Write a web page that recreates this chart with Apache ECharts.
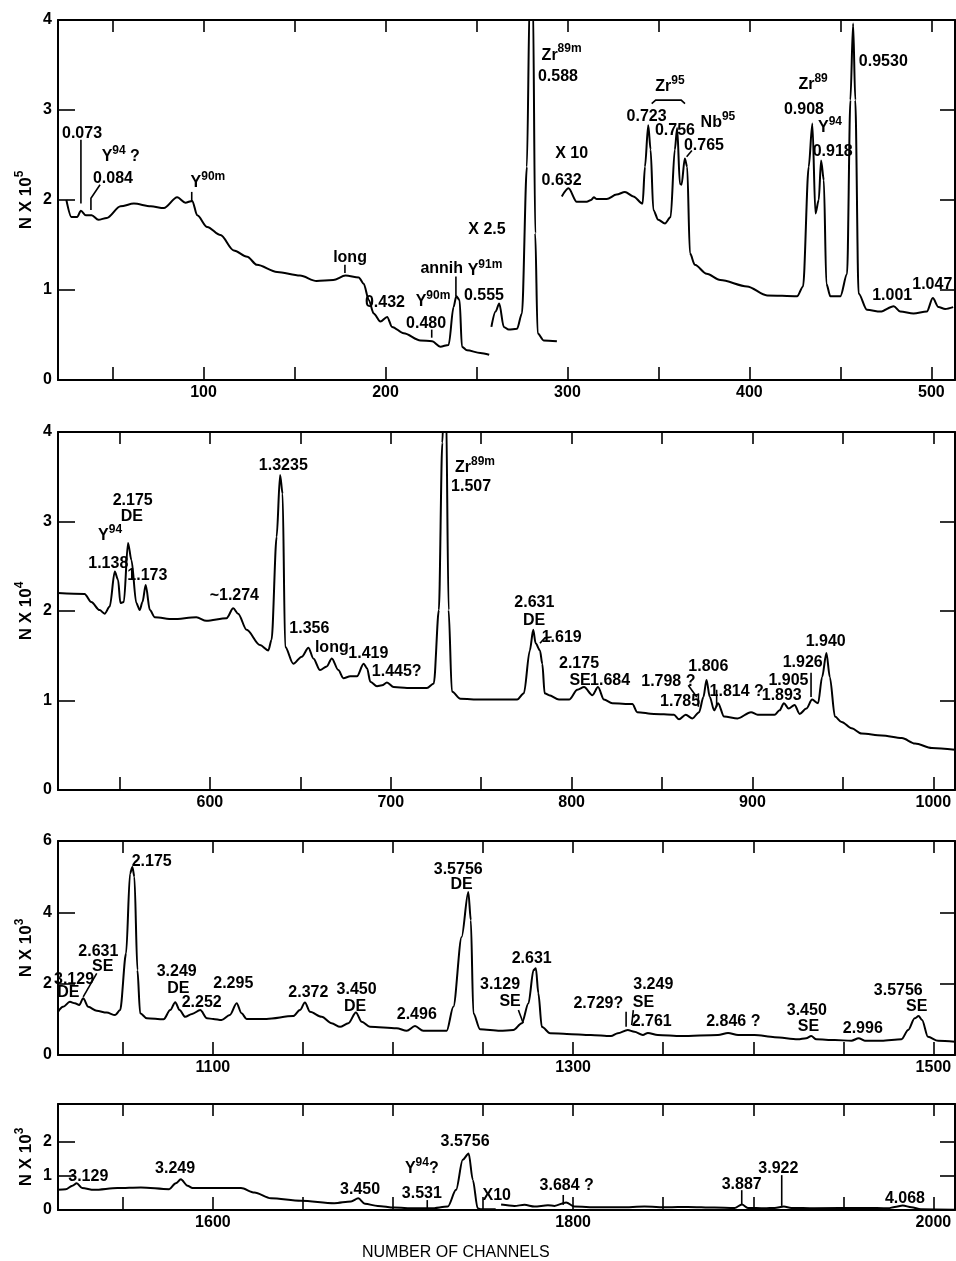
<!DOCTYPE html>
<html>
<head>
<meta charset="utf-8">
<script src="https://cdn.jsdelivr.net/npm/echarts@6/dist/echarts.min.js"></script>
<style>
html,body{margin:0;padding:0;background:#fff;}
#chart{width:956px;height:1261px;}
</style>
</head>
<body>
<div id="chart"></div>
<script>
// axis ranges of the four strips
var xMin = [20, 516, 1014, 1514];
var xMax = [513, 1012, 1512, 2012];
var yMax = [4, 4, 6, 3.1];
var xTicks = [
  [50,100,150,200,250,300,350,400,450,500],
  [550,600,650,700,750,800,850,900,950,1000],
  [1050,1100,1150,1200,1250,1300,1350,1400,1450,1500],
  [1550,1600,1650,1700,1750,1800,1850,1900,1950,2000]
];
var xLabels = [[100,200,300,400,500],[600,700,800,900,1000],[1100,1300,1500],[1600,1800,2000]];
var yLabels = [[0,1,2,3,4],[0,1,2,3,4],[0,2,4,6],[0,1,2]];
var yNames = ['N X 10{s|5}', 'N X 10{s|4}', 'N X 10{s|3}', 'N X 10{s|3}'];

// spectrum, channel / counts
var spec1a = [[24.6,2.0],[27.4,1.81],[30.5,1.81],[32.6,1.88],[35.3,1.83],[38.5,1.83],[42.2,1.78],[46.8,1.8],[54.4,1.93],[61.7,1.96],[71,1.93],[78.2,1.91],[85.5,2.03],[90,1.97],[93.8,1.99],[96.5,1.83],[102,1.70],[109.3,1.61],[116.6,1.44],[124,1.37],[129.3,1.28],[140.4,1.20],[153,1.16],[162.1,1.10],[171.3,1.11],[178,1.16],[185.3,1.14],[188,1.07],[190.8,0.89],[193.5,0.74],[197.2,0.65],[200.9,0.70],[203.6,0.59],[210,0.52],[219.2,0.44],[225.6,0.43],[230.1,0.37],[234.7,0.39],[237.4,0.81],[238.9,0.93],[240.7,0.89],[242,0.37],[244.8,0.33],[252.1,0.30],[257,0.28]];
var spec1b = [[258.2,0.59],[260.5,0.76],[262.5,0.85],[265,0.59],[267.7,0.56],[272.3,0.57],[275,0.74],[277.7,2.37],[279.3,4.3],[281,4.3],[282.3,1.63],[283.6,0.52],[286.9,0.44],[294.2,0.43]];
var spec1c = [[296.9,2.04],[300.6,2.13],[305.1,1.98],[310.6,1.98],[313,2.0],[314.5,2.03],[316.1,2.01],[321.6,2.01],[327,2.06],[331.6,2.09],[336.2,2.04],[341.3,1.96],[342.6,2.37],[344.4,2.83],[345.7,2.56],[347.2,1.89],[349.9,1.78],[353.6,1.74],[356.7,1.81],[359,2.56],[360.3,2.80],[361.8,2.18],[362.7,2.17],[364.5,2.46],[365.8,2.37],[367.3,1.41],[370,1.28],[376.5,1.18],[384,1.11],[398.7,1.04],[409.7,0.94],[426.2,0.93],[429.5,1.04],[432.6,2.37],[434.6,2.85],[436.3,1.85],[438.1,2.0],[439.4,2.44],[440.9,2.22],[442.3,1.07],[444.5,0.93],[450,0.93],[453.7,1.18],[455.5,3.11],[457,3.96],[458.2,3.11],[460,0.96],[464.6,0.78],[472,0.76],[479.3,0.82],[482.9,0.76],[490.2,0.74],[497.5,0.76],[500.8,0.91],[503.9,0.81],[507.6,0.79],[512,0.81]];
var spec2 = [[516,2.20],[530.7,2.19],[534.4,2.10],[539,2.01],[541.8,1.97],[544.6,2.05],[547.4,2.44],[549.2,2.35],[550.5,2.09],[552.4,2.10],[554.7,2.76],[556.6,2.57],[559.3,2.09],[561.2,2.01],[562.7,2.10],[564.5,2.29],[566.8,2.01],[569.5,1.93],[579.6,1.91],[592.5,1.93],[598,1.89],[609.2,1.92],[612.9,2.03],[615.6,1.97],[620.3,1.79],[627.7,1.62],[632.3,1.56],[634.1,1.68],[636.9,2.83],[638.8,3.52],[640.2,3.31],[641.6,1.60],[646.1,1.41],[650.8,1.49],[654.5,1.59],[657.2,1.47],[660.9,1.34],[664.6,1.38],[667.4,1.47],[671,1.34],[673.8,1.25],[677.6,1.27],[681.3,1.27],[685,1.41],[686.9,1.36],[688.7,1.21],[692.4,1.16],[695.2,1.17],[697.9,1.20],[701.6,1.15],[709,1.14],[720,1.14],[723.8,1.19],[726.6,2.01],[728.5,3.88],[729.5,4.4],[730.5,4.4],[732,2.01],[733.8,1.10],[738.5,1.02],[749.6,1.01],[769.9,1.01],[773.6,1.08],[776.9,1.56],[778.8,1.79],[780.1,1.64],[782.5,1.56],[783.8,1.41],[785.1,1.08],[787.5,1.06],[793,1.01],[798.6,1.01],[803.2,1.12],[806.9,1.15],[811.5,1.06],[814.6,1.15],[817.9,1.01],[822.5,0.97],[833.6,0.96],[836.3,0.87],[845.5,0.85],[856.6,0.84],[859.4,0.79],[863.1,0.84],[866.8,0.80],[870.5,0.87],[872.9,1.04],[874.6,1.23],[876.4,1.04],[878.8,0.89],[881,0.97],[884.3,0.82],[891.8,0.80],[899.2,0.87],[902.9,0.84],[912.2,0.84],[915,0.89],[917.4,0.97],[920,0.91],[923.3,0.95],[926.1,0.85],[929.8,0.91],[933,1.01],[936.3,0.97],[938.5,1.26],[940.9,1.53],[942.8,1.26],[945.6,0.82],[949.3,0.76],[954.8,0.69],[960.4,0.63],[971.5,0.61],[982.6,0.58],[989.9,0.52],[999.2,0.47],[1012,0.45]];
var spec3 = [[1014,1.21],[1016.8,1.35],[1020.6,1.49],[1023.4,1.45],[1025.8,1.40],[1028,1.59],[1030.8,1.35],[1035.5,1.24],[1041,1.19],[1045.7,1.12],[1048.5,1.26],[1051.8,2.85],[1054,5.09],[1055.3,5.27],[1056.4,5.0],[1058.1,2.38],[1059.6,1.17],[1063.3,1.03],[1072.6,1.00],[1076.3,1.26],[1079.1,1.48],[1081.5,1.26],[1084.6,1.07],[1088.4,1.15],[1093,1.26],[1096.7,1.03],[1100.2,1.01],[1104.8,0.98],[1109.4,1.12],[1113.2,1.45],[1115.9,1.17],[1118.7,1.01],[1129.8,1.01],[1144.6,1.09],[1148.3,1.26],[1151.1,1.47],[1153.9,1.21],[1160.4,1.07],[1165.9,0.89],[1170.6,0.79],[1175.2,0.89],[1179.4,1.19],[1182.6,0.93],[1187.2,0.79],[1202,0.75],[1207.6,0.68],[1212.2,0.81],[1216.8,0.68],[1229.8,0.68],[1233.5,1.35],[1238.1,3.31],[1241.8,4.57],[1243.2,3.78],[1244.6,1.17],[1248.3,0.72],[1259.4,0.68],[1266.8,0.70],[1271.5,0.89],[1275.2,1.45],[1278,2.38],[1279.3,2.43],[1280.7,1.73],[1282.6,0.79],[1287.2,0.61],[1296.5,0.59],[1309.8,0.56],[1321,0.53],[1324.8,0.61],[1330.3,0.70],[1334,0.65],[1338.7,0.56],[1341.5,0.62],[1347,0.56],[1360,0.53],[1380.4,0.56],[1386,0.62],[1391.6,0.56],[1400.7,0.56],[1411.9,0.50],[1424.8,0.44],[1429.4,0.47],[1432.2,0.53],[1435,0.44],[1445.2,0.42],[1454.5,0.40],[1458.5,0.47],[1461.9,0.40],[1471.2,0.40],[1482.3,0.44],[1486,0.70],[1489.6,1.03],[1491.8,1.09],[1493.7,0.98],[1497,0.51],[1502.6,0.40],[1512,0.37]];
var spec4a = [[1514,0.59],[1518.3,0.61],[1522,0.71],[1524.4,0.78],[1527.4,0.64],[1534,0.59],[1547,0.64],[1560,0.66],[1575.7,0.61],[1579.4,0.78],[1582.2,0.90],[1585.9,0.71],[1588.7,0.64],[1600.7,0.64],[1615.6,0.64],[1623,0.51],[1632.2,0.34],[1648.9,0.27],[1667.4,0.20],[1676.7,0.25],[1680.7,0.34],[1684.4,0.18],[1691.5,0.12],[1700.7,0.07],[1711.9,0.05],[1721.1,0.05],[1730.4,0.10],[1735,0.59],[1738.7,1.47],[1742,1.65],[1744.3,0.88],[1747,0.05],[1749,0.02],[1757,0.02]];
var spec4b = [[1760,0.16],[1767.4,0.12],[1773,0.15],[1778.5,0.1],[1786,0.14],[1789.6,0.12],[1796.1,0.22],[1800.7,0.1],[1813.7,0.08],[1826.7,0.08],[1839.6,0.1],[1852.6,0.08],[1863.7,0.09],[1878.5,0.07],[1889.6,0.06],[1893.7,0.16],[1897,0.06],[1906.3,0.05],[1911.9,0.06],[1917,0.1],[1921.1,0.06],[1934,0.05],[1962,0.06],[1975,0.05],[1978.5,0.09],[1983,0.13],[1987.8,0.08],[1993,0.02],[2012,0.01]];

// peak labels [channel, counts, text]
var labels1 = [[33.2,2.74,'0.073'],[54.5,2.48,'Y{s|94} ?'],[50.2,2.24,'0.084'],[102.4,2.19,'Y{s|90m}'],[180.5,1.36,'long'],[199.7,0.86,'0.432'],[226.1,0.87,'Y{s|90m}'],[222.3,0.63,'0.480'],[230.9,1.24,'annih'],[255.8,1.67,'X 2.5'],[254.7,1.22,'Y{s|91m}'],[254.1,0.94,'0.555'],[296.8,3.61,'Zr{s|89m}'],[294.8,3.37,'0.588'],[302.3,2.52,'X 10'],[296.8,2.22,'0.632'],[356.3,3.26,'Zr{s|95}'],[343.5,2.93,'0.723'],[359.1,2.77,'0.756'],[382.7,2.86,'Nb{s|95}'],[375,2.6,'0.765'],[435,3.28,'Zr{s|89}'],[430,3.01,'0.908'],[444.3,2.8,'Y{s|94}'],[445.8,2.54,'0.918'],[473.6,3.54,'0.9530'],[478.5,0.94,'1.001'],[500.5,1.06,'1.047']];
var labels2 = [[544.8,2.84,'Y{s|94}'],[543.8,2.53,'1.138'],[557.3,3.23,'2.175'],[556.8,3.05,'DE'],[565.4,2.40,'1.173'],[613.5,2.17,'~1.274'],[640.6,3.63,'1.3235'],[746.6,3.6,'Zr{s|89m}'],[744.4,3.39,'1.507'],[655,1.80,'1.356'],[667.4,1.59,'long'],[687.6,1.52,'1.419'],[703.3,1.32,'1.445?'],[779.4,2.09,'2.631'],[779.2,1.89,'DE'],[794.5,1.70,'1.619'],[804.1,1.41,'2.175'],[804.7,1.22,'SE'],[821.3,1.22,'1.684'],[853.5,1.21,'1.798 ?'],[860,0.99,'1.785'],[875.6,1.38,'1.806'],[891.3,1.10,'1.814 ?'],[916.2,1.06,'1.893'],[919.9,1.22,'1.905'],[927.8,1.42,'1.926'],[940.5,1.66,'1.940']];
var labels3 = [[1022.9,2.12,'3.129'],[1019.7,1.75,'DE'],[1036.4,2.90,'2.631'],[1038.8,2.48,'SE'],[1066,5.42,'2.175'],[1079.9,2.34,'3.249'],[1080.8,1.87,'DE'],[1093.8,1.47,'2.252'],[1111.3,1.99,'2.295'],[1153,1.75,'2.372'],[1179.8,1.84,'3.450'],[1178.9,1.37,'DE'],[1213.2,1.12,'2.496'],[1236.2,5.19,'3.5756'],[1238.1,4.77,'DE'],[1259.4,1.96,'3.129'],[1265,1.49,'SE'],[1277,2.71,'2.631'],[1314,1.45,'2.729?'],[1344.5,1.96,'3.249'],[1339,1.47,'SE'],[1343.6,0.93,'2.761'],[1388.9,0.93,'2.846 ?'],[1429.7,1.24,'3.450'],[1430.6,0.79,'SE'],[1460.8,0.75,'2.996'],[1480.5,1.80,'3.5756'],[1490.7,1.35,'SE']];
var labels4 = [[1530.8,0.97,'3.129'],[1579,1.22,'3.249'],[1681.7,0.61,'3.450'],[1716,1.22,'Y{s|94}?'],[1716,0.49,'3.531'],[1740,1.99,'3.5756'],[1757.6,0.41,'X10'],[1796.4,0.70,'3.684 ?'],[1893.6,0.75,'3.887'],[1913.9,1.22,'3.922'],[1984.2,0.34,'4.068']];

// leader lines from labels to peaks
var leaders1 = [
  [[32.6,2.67],[32.6,1.96]],
  [[43.1,2.17],[38.1,2.02],[38.1,1.89]],
  [[93.5,2.09],[93.5,1.98]],
  [[177.7,1.28],[177.7,1.19]],
  [[225.4,0.56],[225.4,0.47]],
  [[238.7,1.15],[238.7,0.93]],
  [[346.3,3.07],[348.5,3.11],[362.5,3.11],[364.6,3.07]],
  [[368.4,2.55],[365.5,2.48]]
];
var leaders2 = [
  [[782.5,1.64],[785.3,1.70],[789,1.71]],
  [[864.5,1.17],[869.2,1.04]],
  [[870.1,1.08],[870.1,0.93]],
  [[880.2,1.12],[880.2,0.93]],
  [[932.4,1.31],[932.4,1.04]]
];
var leaders3 = [
  [[1035.5,2.29],[1028,1.63]],
  [[1269.6,1.26],[1272.3,0.89]],
  [[1329.4,1.21],[1329.4,0.79]],
  [[1333.4,1.26],[1332.5,0.84]]
];
var leaders4 = [
  [[1719,0.29],[1719,0.05]],
  [[1794.5,0.44],[1794.5,0.15]],
  [[1893.6,0.58],[1893.6,0.15]],
  [[1915.8,1.02],[1915.8,0.12]]
];

var specs = [[spec1a, spec1b, spec1c], [spec2], [spec3], [spec4a, spec4b]];
var labels = [labels1, labels2, labels3, labels4];
var leaders = [leaders1, leaders2, leaders3, leaders4];

var FONT = 'Liberation Sans';
var layout = [
  {top: 20, height: 360},
  {top: 432, height: 358},
  {top: 841, height: 214},
  {top: 1104, height: 106}
];

var grids = [], xAxes = [], yAxes = [], series = [];
var axisLine = {show: true, onZero: false, lineStyle: {color: '#000', width: 2}};
var plain = function (v) { return String(v); };

for (var i = 0; i < 4; i++) {
  grids.push({left: 58, width: 897, top: layout[i].top, height: layout[i].height});

  xAxes.push({
    type: 'value', gridIndex: i, position: 'bottom', min: xMin[i], max: xMax[i],
    axisLine: axisLine, splitLine: {show: false},
    axisTick: {show: true, inside: true, length: 13, customValues: xTicks[i], lineStyle: {color: '#000', width: 1.6}},
    axisLabel: {customValues: xLabels[i], formatter: plain, color: '#000', fontSize: 16, fontWeight: 'bold', fontFamily: FONT, margin: 5}
  });
  xAxes.push({
    type: 'value', gridIndex: i, position: 'top', min: xMin[i], max: xMax[i],
    axisLine: axisLine, splitLine: {show: false},
    axisTick: {show: true, inside: true, length: 12, customValues: xTicks[i], lineStyle: {color: '#000', width: 1.6}},
    axisLabel: {show: false}
  });
  yAxes.push({
    type: 'value', gridIndex: i, position: 'left', min: 0, max: yMax[i],
    axisLine: axisLine, splitLine: {show: false},
    axisTick: {show: true, inside: true, length: 17, customValues: yLabels[i], lineStyle: {color: '#000', width: 1.6}},
    axisLabel: {customValues: yLabels[i], formatter: plain, color: '#000', fontSize: 16, fontWeight: 'bold', fontFamily: FONT, margin: 6},
    name: yNames[i], nameLocation: 'middle', nameGap: 20, nameRotate: 90, nameMoveOverlap: false,
    nameTextStyle: {color: '#000', fontSize: 17, fontFamily: FONT, fontWeight: 'bold', lineHeight: 24,
      rich: {s: {fontSize: 12, fontFamily: FONT, fontWeight: 'bold', verticalAlign: 'top', lineHeight: 12}}}
  });
  yAxes.push({
    type: 'value', gridIndex: i, position: 'right', min: 0, max: yMax[i],
    axisLine: axisLine, splitLine: {show: false},
    axisTick: {show: true, inside: true, length: 15, customValues: yLabels[i], lineStyle: {color: '#000', width: 1.6}},
    axisLabel: {show: false}
  });

  specs[i].forEach(function (seg) {
    series.push({
      type: 'line', xAxisIndex: 2 * i, yAxisIndex: 2 * i, data: seg,
      showSymbol: false, smooth: 0.3, smoothMonotone: 'x',
      lineStyle: {color: '#000', width: 2}, silent: true
    });
  });

  (function (lb, ld, k) {
    series.push({
      type: 'custom', xAxisIndex: 2 * k, yAxisIndex: 2 * k, silent: true,
      data: ld.map(function (l, j) { return [l[0][0], l[0][1], j]; }),
      renderItem: function (params, api) {
        var pts = ld[api.value(2)].map(function (p) { return api.coord(p); });
        return {type: 'polyline', shape: {points: pts}, style: {stroke: '#000', lineWidth: 1.6, fill: null}};
      }
    });
    series.push({
      type: 'custom', xAxisIndex: 2 * k, yAxisIndex: 2 * k, silent: true,
      data: lb.map(function (l, j) { return [l[0], l[1], j]; }),
      renderItem: function (params, api) {
        var p = api.coord([api.value(0), api.value(1)]);
        return {
          type: 'text', x: p[0], y: p[1],
          style: {
            text: lb[api.value(2)][2], fill: '#000', fontSize: 16, fontWeight: 'bold', fontFamily: FONT,
            align: 'center', verticalAlign: 'middle', lineHeight: 24,
            rich: {s: {fontSize: 12, fontWeight: 'bold', fontFamily: FONT, fill: '#000', verticalAlign: 'top', lineHeight: 12}}
          }
        };
      }
    });
  })(labels[i], leaders[i], i);
}

var chart = echarts.init(document.getElementById('chart'), null, {renderer: 'canvas'});
chart.setOption({
  backgroundColor: '#fff',
  animation: false,
  grid: grids,
  xAxis: xAxes,
  yAxis: yAxes,
  series: series,
  graphic: [{
    type: 'text', left: 362, top: 1245,
    style: {text: 'NUMBER OF CHANNELS', fill: '#000', fontSize: 16, fontFamily: FONT}
  }]
});
</script>
</body>
</html>
